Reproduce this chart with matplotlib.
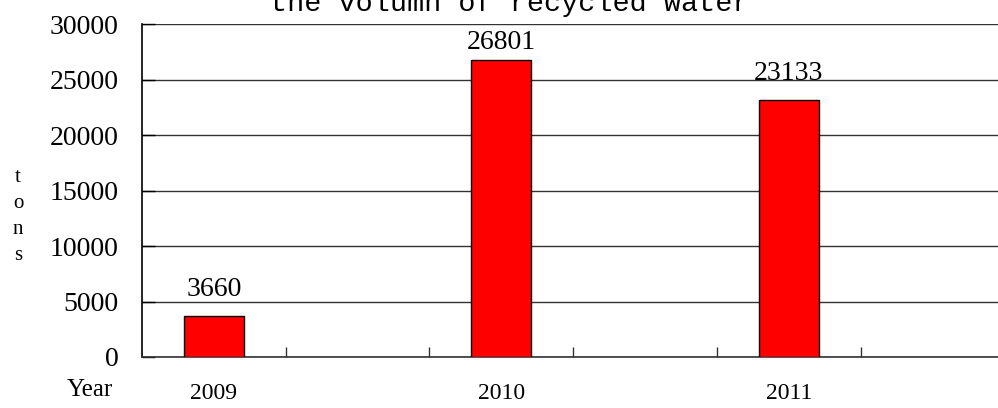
import matplotlib.pyplot as plt

years = ['2009', '', '2010', '', '2011', '']
water = [3660, None, 26801, None, 23133, None]

serif = ['Liberation Serif', 'DejaVu Serif']

fig = plt.figure(figsize=(9.98, 4.08), dpi=100)
ax = fig.add_axes([0.1423, 0.125, 0.864, 0.816])

x = list(range(len(years)))
bx = [i for i, v in zip(x, water) if v is not None]
bv = [v for v in water if v is not None]
bars = ax.bar(bx, bv, width=0.42, color='#ff0000', edgecolor='black', linewidth=1, zorder=3)
# the tallest label sits closer to its bar in the original
offs = [10, 3, 10]
for b, v, o in zip(bars, bv, offs):
    ax.annotate(str(v), (b.get_x() + b.get_width() / 2, b.get_height()),
                xytext=(0, o), textcoords='offset points', ha='center', va='bottom',
                fontsize=20, family=serif, zorder=4)

ax.set_xlim(-0.5, 5.5)
ax.set_ylim(0, 30000)
ax.set_yticks(range(0, 30001, 5000))
ax.set_yticklabels([str(v) for v in range(0, 30001, 5000)], fontsize=20, family=serif)
ax.tick_params(axis='y', direction='in', length=9, width=1, pad=17)

ax.set_xticks(x)
ax.set_xticklabels(years, fontsize=17, family=serif)
ax.tick_params(axis='x', length=0, pad=19)
ax.set_xticks([i + 0.5 for i in x], minor=True)
ax.tick_params(axis='x', which='minor', direction='in', length=7, width=1, color='#333333')

ax.yaxis.grid(True, color='#333333', linewidth=1, zorder=0)
ax.set_axisbelow(True)
for s in ['top', 'right']:
    ax.spines[s].set_visible(False)
ax.spines['left'].set_linewidth(1.2)
ax.spines['bottom'].set_linewidth(1.2)
ax.spines['bottom'].set_color('#333333')

fig.text(0.511, 0.972, 'the volumn of recycled water', ha='center', va='baseline',
         fontsize=20.5, family=['Liberation Mono', 'DejaVu Sans Mono'])
fig.text(0.018, 0.47, 't\no\nn\ns', ha='center', va='center', fontsize=15,
         family=serif, linespacing=1.5)
fig.text(0.09, 0.044, 'Year', ha='center', va='center', fontsize=18, family=serif)

fig.savefig('out.png', dpi=100)
